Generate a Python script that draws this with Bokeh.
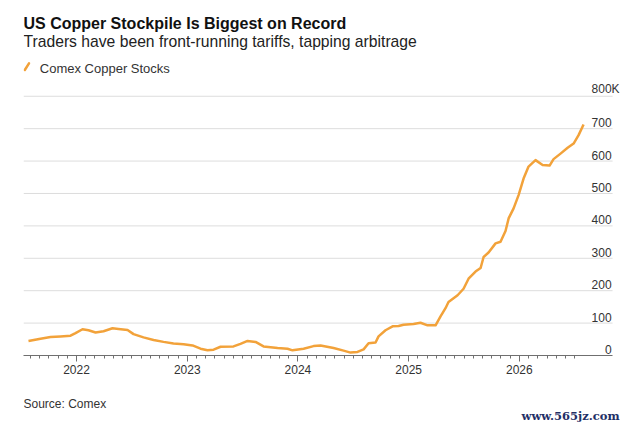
from bokeh.plotting import figure
from bokeh.models import ColumnDataSource, FixedTicker, Range1d, Label
from bokeh.layouts import column
from bokeh.embed import file_html
from bokeh.resources import INLINE
from bokeh.core.properties import value

# ---- data ----
dates = [2021.566, 2021.675, 2021.765, 2021.855, 2021.946, 2021.991, 2022.054, 2022.108,
         2022.172, 2022.244, 2022.325, 2022.379, 2022.461, 2022.515, 2022.605, 2022.696,
         2022.786, 2022.876, 2022.967, 2023.048, 2023.120, 2023.183, 2023.238, 2023.301,
         2023.418, 2023.481, 2023.545, 2023.617, 2023.689, 2023.816, 2023.906, 2023.951,
         2024.051, 2024.141, 2024.204, 2024.322, 2024.412, 2024.475, 2024.538, 2024.593,
         2024.638, 2024.701, 2024.728, 2024.791, 2024.855, 2024.909, 2024.954, 2025.044,
         2025.107, 2025.171, 2025.243, 2025.288, 2025.333, 2025.360, 2025.442, 2025.496,
         2025.541, 2025.604, 2025.650, 2025.677, 2025.722, 2025.785, 2025.830, 2025.875,
         2025.903, 2025.948, 2025.993, 2026.038, 2026.083, 2026.146, 2026.210, 2026.273,
         2026.309, 2026.372, 2026.436, 2026.490, 2026.535, 2026.580]
stocks_k = [45, 52, 57, 59, 61, 69, 81, 78,
            71, 75, 84, 82, 79, 66, 56, 48,
            42, 37, 35, 31, 21, 16, 18, 27,
            28, 36, 45, 42, 28, 23, 21, 16,
            21, 29, 31, 23, 15, 9, 11, 19,
            38, 40, 59, 78, 90, 91, 95, 97,
            101, 93, 93, 121, 146, 165, 186, 206,
            237, 259, 270, 304, 318, 346, 351, 384,
            423, 454, 495, 546, 583, 603, 588, 586,
            606, 623, 641, 654, 680, 713]

x_ticks = [2022, 2023, 2024, 2025, 2026]
x_tick_labels = ["2022", "2023", "2024", "2025", "2026"]
y_ticks = [0, 100, 200, 300, 400, 500, 600, 700]
y_tick_labels = ["0", "100", "200", "300", "400", "500", "600", "700"]
y_top_tick = 800
y_top_label = "800K"

series_name = "Comex Copper Stocks"
title_text = "US Copper Stockpile Is Biggest on Record"
subtitle_text = "Traders have been front-running tariffs, tapping arbitrage"
source_text = "Source: Comex"
watermark_text = "www.565jz.com"

ORANGE = "#F2A23A"
FONT = "Liberation Sans"
W = 632
LEFT = 23  # left border shared by all stacked figures (frames are aligned)

x_start, axis_end, x_end = 2021.521, 2026.842, 2027.022


def blank(h):
    f = figure(width=W, height=h, output_backend="svg", toolbar_location=None,
               x_range=Range1d(LEFT, W), y_range=Range1d(h, 0),
               min_border_left=LEFT, min_border_right=0, min_border_top=0,
               min_border_bottom=0, x_axis_location=None, y_axis_location=None)
    f.grid.visible = False
    f.outline_line_color = None
    return f


def lab(f, x, y, text, size, color, style="normal", font=FONT):
    f.add_layout(Label(x=x, y=y, text=text, text_font=font, text_font_size=size,
                       text_color=color, text_font_style=style, text_baseline="alphabetic"))


# ---- header ----
header = blank(76)
lab(header, 23, 23, title_text, "16px", "#111111", "bold")
lab(header, 23, 40.7, subtitle_text, "15.7px", "#222222")
lab(header, 39.3, 68, series_name, "13px", "#333333")
header.segment(x0=[24.3], y0=[69.5], x1=[28.5], y1=[62.8], line_color=ORANGE,
               line_width=2.5, line_cap="round")

# ---- main chart ----
p = figure(width=W, height=309, output_backend="svg", toolbar_location=None,
           x_range=Range1d(x_start, x_end), y_range=Range1d(0, 861),
           min_border_left=LEFT, min_border_right=0, min_border_top=0, min_border_bottom=30)
p.outline_line_color = None
p.grid.visible = False
p.yaxis.visible = False

minor = [2021 + m / 12 for m in range(7, 12 * 5 + 7)]
p.xaxis.ticker = FixedTicker(ticks=x_ticks, minor_ticks=minor)
p.xaxis.bounds = (x_start, axis_end)
p.xaxis.major_label_overrides = {t: l for t, l in zip(x_ticks, x_tick_labels)}
p.xaxis.axis_line_color = "#6f6f6f"
p.xaxis.major_tick_line_color = "#6f6f6f"
p.xaxis.minor_tick_line_color = "#6f6f6f"
p.xaxis.major_tick_in = 0
p.xaxis.major_tick_out = 6
p.xaxis.minor_tick_in = 0
p.xaxis.minor_tick_out = 3
p.xaxis.major_label_standoff = 3
p.xaxis.major_label_text_font = FONT
p.xaxis.major_label_text_font_size = "12px"
p.xaxis.major_label_text_color = "#333333"

# horizontal grid lines (ending where the axis ends)
grid_vals = y_ticks[1:] + [y_top_tick]
p.segment(x0=[x_start] * len(grid_vals), x1=[axis_end] * len(grid_vals),
          y0=grid_vals, y1=grid_vals, line_color="#dddddd", line_width=1)

src = ColumnDataSource(dict(x=dates, y=stocks_k))
p.line("x", "y", source=src, line_color=ORANGE, line_width=2.5, line_join="round")

lab_src = ColumnDataSource(dict(x=[axis_end] * len(y_ticks), y=y_ticks, t=y_tick_labels))
p.text("x", "y", text="t", source=lab_src, text_align="right", text_baseline="alphabetic",
       x_offset=-1, y_offset=-6, text_font=value(FONT), text_font_size="12px",
       text_color="#333333")
p.text(x=[axis_end], y=[y_top_tick], text=[y_top_label], text_align="right",
       text_baseline="alphabetic", x_offset=7, y_offset=-7.5, text_font=value(FONT),
       text_font_size="12px", text_color="#333333")

# ---- footer ----
footer = blank(37)
lab(footer, 23, 18, source_text, "12px", "#333333")
lab(footer, 521, 30, watermark_text, "11.5px", "#1f2f66", "bold", "DejaVu Serif")

layout = column(header, p, footer, spacing=0)
open("out.html", "w").write(file_html(layout, INLINE))
